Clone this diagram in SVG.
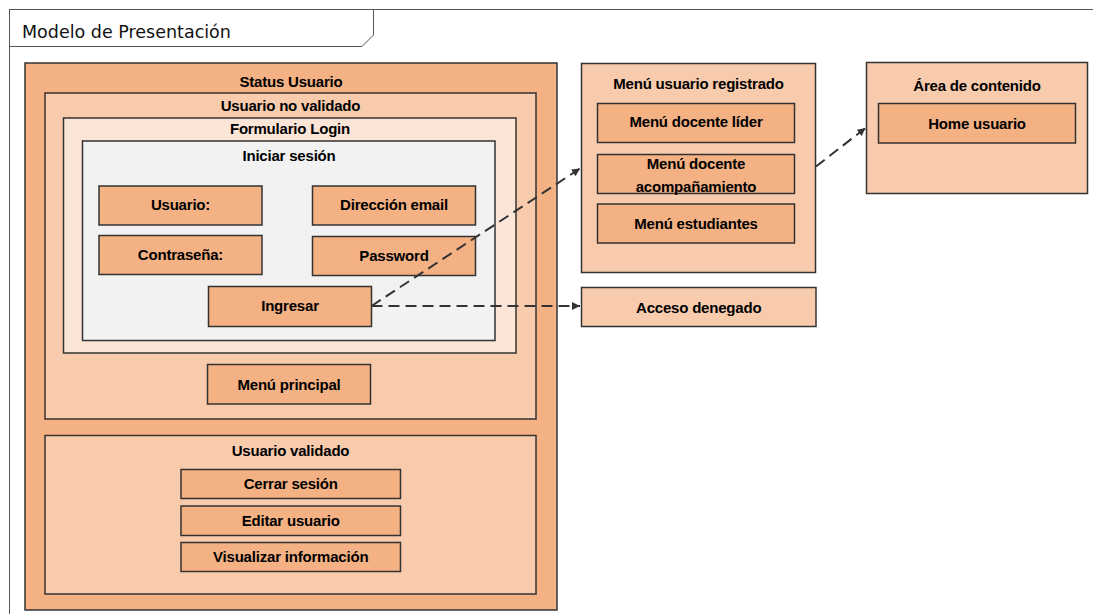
<svg xmlns="http://www.w3.org/2000/svg" width="1093" height="614" viewBox="0 0 1093 614">
<style>
.frame{fill:none;stroke:#555;stroke-width:1}
.b{stroke:#333;stroke-width:1.5}
.c1{fill:#F4B183}
.c2{fill:#F8CBAD}
.c3{fill:#FBE5D6}
.c4{fill:#F2F2F2}
.t{font-family:"Liberation Sans",Arial,sans-serif;font-weight:bold;font-size:15px;fill:#000;text-anchor:middle;letter-spacing:-0.2px}
.title{font-family:"DejaVu Sans",sans-serif;font-size:17.5px;fill:#111}
.conn{fill:none;stroke:#333;stroke-width:2;stroke-dasharray:11 6}
</style>
<defs>
<marker id="arr" viewBox="0 0 10 10" refX="10" refY="5" markerWidth="4" markerHeight="4" orient="auto" markerUnits="strokeWidth">
<path d="M0,0 L10,5 L0,10 z" fill="#333"/>
</marker>
</defs>
<rect width="1093" height="614" fill="#fff"/>
<g id="frame">
<rect class="frame" x="9.5" y="9.5" width="1100" height="620"/>
<path class="frame" d="M9.5,46.5 H362 L373.5,35 V9.5"/>
<text class="title" x="22" y="38">Modelo de Presentación</text>
</g>
<g id="status-usuario">
<rect class="b c1" x="25" y="63" width="532" height="547"/>
<text class="t" x="291" y="87">Status Usuario</text>
</g>
<g id="usuario-no-validado">
<rect class="b c2" x="45" y="93" width="491" height="326"/>
<text class="t" x="290.5" y="111">Usuario no validado</text>
</g>
<g id="formulario-login">
<rect class="b c3" x="63.5" y="118" width="452.5" height="235"/>
<text class="t" x="290" y="134">Formulario Login</text>
</g>
<g id="iniciar-sesion">
<rect class="b c4" x="82.5" y="141" width="412.5" height="199.5"/>
<text class="t" x="289" y="161">Iniciar sesión</text>
</g>
<g id="usuario">
<rect class="b c1" x="99" y="186" width="163" height="39"/>
<text class="t" x="180.5" y="209.5">Usuario:</text>
</g>
<g id="direccion-email">
<rect class="b c1" x="312.5" y="186" width="163" height="39"/>
<text class="t" x="394" y="209.5">Dirección email</text>
</g>
<g id="contrasena">
<rect class="b c1" x="99" y="235.5" width="163" height="39"/>
<text class="t" x="180.5" y="259.7">Contraseña:</text>
</g>
<g id="password">
<rect class="b c1" x="312.5" y="236.5" width="163" height="39"/>
<text class="t" x="394" y="261">Password</text>
</g>
<g id="ingresar">
<rect class="b c1" x="208.5" y="286.5" width="163" height="40"/>
<text class="t" x="290" y="311">Ingresar</text>
</g>
<g id="menu-principal">
<rect class="b c1" x="207.5" y="364.5" width="163" height="39.5"/>
<text class="t" x="289" y="389.7">Menú principal</text>
</g>
<g id="usuario-validado">
<rect class="b c2" x="45" y="435.5" width="491" height="158.5"/>
<text class="t" x="290.5" y="456">Usuario validado</text>
</g>
<g id="cerrar-sesion">
<rect class="b c1" x="181" y="469.5" width="219.5" height="29"/>
<text class="t" x="290.7" y="489">Cerrar sesión</text>
</g>
<g id="editar-usuario">
<rect class="b c1" x="181" y="506" width="219.5" height="29.5"/>
<text class="t" x="290.7" y="526">Editar usuario</text>
</g>
<g id="visualizar-informacion">
<rect class="b c1" x="181" y="542.5" width="219.5" height="29"/>
<text class="t" x="290.7" y="562">Visualizar información</text>
</g>
<g id="menu-usuario-registrado">
<rect class="b c2" x="581.5" y="63.5" width="234" height="209"/>
<text class="t" x="698.5" y="88.7">Menú usuario registrado</text>
</g>
<g id="menu-docente-lider">
<rect class="b c1" x="597.5" y="103.5" width="197" height="39"/>
<text class="t" x="696" y="127">Menú docente líder</text>
</g>
<g id="menu-docente-acompanamiento">
<rect class="b c1" x="597.5" y="154.5" width="197" height="39"/>
<text class="t" x="696" y="169.4">Menú docente</text>
<text class="t" x="696" y="192">acompañamiento</text>
</g>
<g id="menu-estudiantes">
<rect class="b c1" x="597.5" y="204" width="197" height="39"/>
<text class="t" x="696" y="228.7">Menú estudiantes</text>
</g>
<g id="acceso-denegado">
<rect class="b c2" x="581.5" y="287.5" width="234.5" height="39"/>
<text class="t" x="698.7" y="312.7">Acceso denegado</text>
</g>
<g id="area-contenido">
<rect class="b c2" x="866.5" y="62.5" width="221" height="131"/>
<text class="t" x="977" y="91">Área de contenido</text>
</g>
<g id="home-usuario">
<rect class="b c1" x="878.5" y="103.5" width="197" height="39.5"/>
<text class="t" x="977" y="128.7">Home usuario</text>
</g>
<g id="connectors">
<path class="conn" d="M371.5,306 L580,168.5" marker-end="url(#arr)"/>
<path class="conn" d="M371.5,306 L580,306" marker-end="url(#arr)"/>
<path class="conn" d="M816,166.5 L865.5,128" marker-end="url(#arr)"/>
</g>
</svg>
